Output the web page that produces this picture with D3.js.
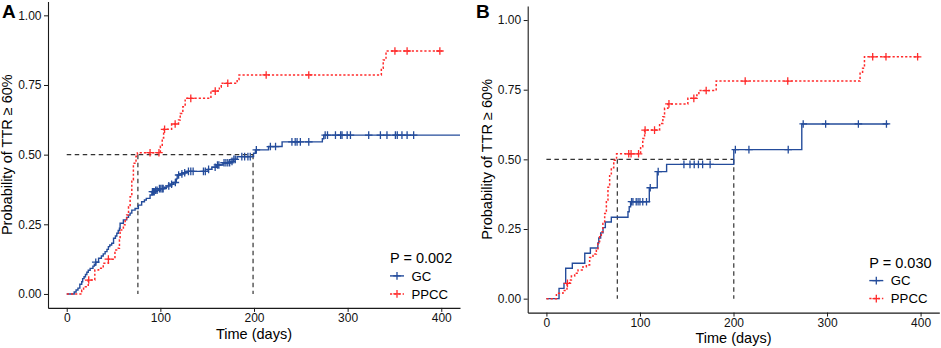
<!DOCTYPE html>
<html><head><meta charset="utf-8">
<script src="https://cdn.jsdelivr.net/npm/d3@7"></script>
<style>
body{margin:0;background:#fff}
svg{display:block}
text{font-family:"Liberation Sans",Arial,Helvetica,sans-serif}
</style>
</head><body>
<svg id="c" width="941" height="348"></svg>
<script>
// ---------- data ----------
const xTicks = [0, 100, 200, 300, 400];
const yTicks = [0, 0.25, 0.5, 0.75, 1];
const yTickLabels = ["0.00", "0.25", "0.50", "0.75", "1.00"];
const groups = ["GC", "PPCC"];
const pValues = ["P = 0.002", "P = 0.030"];
const panelLabels = ["A", "B"];
const xTitle = "Time (days)";
const yTitle = "Probability of TTR \u2265 60%";

// Panel A
const gcA_time = [0, 8, 10, 12, 14, 16, 17, 18.5, 20, 21.5, 23, 25, 28, 29.5, 31, 34, 37, 39, 41, 43, 44.5, 46, 48, 50, 52, 53.5, 55, 56.3, 57, 60.5, 64, 66, 67.7, 69.5, 73, 76.5, 80, 83, 85, 89, 91, 94, 98, 104, 107, 110.5, 114, 117, 118, 121, 124.5, 128, 151, 155, 160, 167, 175, 178, 182, 199.5, 201.5, 215.5, 230, 273, 274.5, 430];
const gcA_prob = [0, 0.007, 0.014, 0.021, 0.035, 0.044, 0.055, 0.062, 0.07, 0.078, 0.085, 0.092, 0.1, 0.107, 0.114, 0.128, 0.136, 0.144, 0.152, 0.16, 0.17, 0.176, 0.182, 0.2, 0.208, 0.218, 0.228, 0.236, 0.254, 0.266, 0.275, 0.283, 0.29, 0.301, 0.307, 0.319, 0.331, 0.337, 0.343, 0.355, 0.367, 0.372, 0.378, 0.383, 0.388, 0.394, 0.4, 0.413, 0.427, 0.431, 0.435, 0.44, 0.447, 0.455, 0.463, 0.471, 0.476, 0.483, 0.493, 0.505, 0.517, 0.529, 0.546, 0.557, 0.57, 0.57];
const gcA_censor = [31, 91.5, 92.5, 93.5, 95, 96.5, 99, 100.5, 102, 103, 109, 112, 116, 119.5, 123, 126, 130, 132.5, 135, 146, 148, 151.5, 158.5, 161, 162.5, 168, 170, 172, 174, 176.5, 178.5, 180, 187, 190, 193.5, 196, 202.5, 217.5, 223, 240.5, 244, 246, 249.5, 258.5, 276, 278.5, 287, 292.5, 294, 299.5, 303, 322.5, 335, 342, 351, 353, 358, 363.5, 370.5];
const ppccA_time = [0, 16, 18, 23, 30, 34, 39, 44.5, 51.5, 55, 56.3, 57, 60.5, 62.4, 64, 66, 67.7, 69.5, 71.2, 74, 75.5, 100, 102, 103.5, 112, 119.4, 121.2, 124, 126.5, 154, 163, 165, 182, 184, 336, 338, 341, 401];
const ppccA_prob = [0, 0.013, 0.026, 0.05, 0.086, 0.092, 0.11, 0.125, 0.158, 0.164, 0.194, 0.23, 0.248, 0.266, 0.283, 0.313, 0.349, 0.409, 0.469, 0.494, 0.507, 0.53, 0.56, 0.591, 0.61, 0.624, 0.648, 0.672, 0.702, 0.728, 0.742, 0.756, 0.77, 0.786, 0.81, 0.84, 0.872, 0.872];
const ppccA_censor = [23.5, 44.5, 89, 98.5, 104.5, 115.8, 132.5, 158.6, 172, 213, 258.5, 350.5, 363.5, 398.5];
const medianA = [76, 199];

// Panel B
const gcB_time = [0, 13.5, 18.8, 20.6, 27.7, 41, 47, 55, 56, 58, 60.5, 63, 69.4, 87.2, 88.5, 90, 110, 118.5, 128.5, 200.3, 273, 365.6];
const gcB_prob = [0, 0.037, 0.055, 0.109, 0.127, 0.163, 0.182, 0.2, 0.218, 0.236, 0.255, 0.275, 0.292, 0.312, 0.33, 0.348, 0.398, 0.456, 0.482, 0.535, 0.627, 0.627];
const gcB_censor = [91, 92.5, 96, 98, 100, 103, 107, 111, 119.5, 147, 153.5, 158, 162.5, 167, 175, 202, 216.5, 258.5, 274.5, 298.5, 333.5, 363.5];
const ppccB_time = [0, 10.7, 17.7, 22, 24.9, 26.7, 30.2, 33.8, 39.1, 42.7, 46.2, 49.8, 53.4, 55.1, 56.9, 58.7, 60.4, 62.3, 64.1, 65.8, 67.6, 69.4, 72, 75, 100.7, 103, 105, 121, 124.5, 126.3, 129.9, 151.2, 160.8, 163, 181.5, 335.3, 338, 340, 398];
const ppccB_prob = [0, 0.019, 0.029, 0.055, 0.067, 0.081, 0.091, 0.103, 0.115, 0.121, 0.148, 0.16, 0.175, 0.205, 0.222, 0.24, 0.27, 0.306, 0.354, 0.40, 0.445, 0.47, 0.497, 0.52, 0.545, 0.575, 0.605, 0.629, 0.653, 0.683, 0.699, 0.719, 0.731, 0.747, 0.781, 0.809, 0.827, 0.868, 0.868];
const ppccB_censor = [22.5, 88, 90.5, 98.5, 105.5, 115.6, 131, 157.6, 170.8, 212.5, 258, 348.8, 363, 396.8];
const medianB = [75.8, 200.3];

// ---------- styling / layout ----------
const GC_COLOR = "#244C9B";
const PP_COLOR = "#FF2B2B";
const FONT_TICK = 12, FONT_TITLE = 14.5, FONT_LEG = 13.2;

const panels = [
  {label: panelLabels[0], pval: pValues[0], left: 48, right: 460, top: 1.4, bottom: 307.9, labelX: 2,
   series: [{t: gcA_time, p: gcA_prob, c: gcA_censor}, {t: ppccA_time, p: ppccA_prob, c: ppccA_censor}], med: medianA},
  {label: panelLabels[1], pval: pValues[1], left: 527.7, right: 939.3, top: 6.1, bottom: 312.6, labelX: 476,
   series: [{t: gcB_time, p: gcB_prob, c: gcB_censor}, {t: ppccB_time, p: ppccB_prob, c: ppccB_censor}], med: medianB}
];
const styles = [
  {color: GC_COLOR, dash: null, width: 1.4, arm: 3.8},
  {color: PP_COLOR, dash: "2.2,2", width: 1.5, arm: 3.8}
];

const svg = d3.select("#c");

function stepValue(times, probs, t) {
  let v = probs[0];
  for (let i = 0; i < times.length; i++) { if (times[i] <= t) v = probs[i]; else break; }
  return v;
}
const crossPath = a => `M${-a},0H${a}M0,${-a}V${a}`;

panels.forEach((pn, pi) => {
  const x = d3.scaleLinear().domain([-20, 420]).range([pn.left, pn.right]);
  const y = d3.scaleLinear().domain([-0.05, 1.05]).range([pn.bottom, pn.top]);
  const g = svg.append("g");

  const clipId = "clip" + pi;
  svg.append("clipPath").attr("id", clipId).append("rect")
    .attr("x", pn.left).attr("y", pn.top).attr("width", pn.right - pn.left).attr("height", pn.bottom - pn.top);

  // axes
  const xa = g.append("g").attr("transform", `translate(0,${pn.bottom})`)
    .call(d3.axisBottom(x).tickValues(xTicks).tickSize(4).tickPadding(2).tickSizeOuter(0));
  const ya = g.append("g").attr("transform", `translate(${pn.left},0)`)
    .call(d3.axisLeft(y).tickValues(yTicks).tickFormat((d, i) => yTickLabels[i]).tickSize(4).tickPadding(2.5).tickSizeOuter(0));
  [xa, ya].forEach(a => {
    a.select(".domain").attr("stroke", "#1a1a1a").attr("stroke-width", 1.1);
    a.selectAll(".tick line").attr("stroke", "#1a1a1a").attr("stroke-width", 1);
    a.selectAll(".tick text").attr("fill", "#111").style("font-size", FONT_TICK + "px")
      .style("font-family", '"Liberation Sans",Arial,sans-serif');
  });

  // axis titles
  g.append("text").attr("x", (pn.left + pn.right) / 2).attr("y", pn.bottom + 30.8)
    .attr("text-anchor", "middle").style("font-size", FONT_TITLE + "px").attr("fill", "#000").text(xTitle);
  g.append("text").attr("transform", `translate(${pn.left - 36},${(pn.top + pn.bottom) / 2}) rotate(-90)`)
    .attr("text-anchor", "middle").style("font-size", FONT_TITLE + "px").attr("fill", "#000").text(yTitle);

  // panel label
  g.append("text").attr("x", pn.labelX).attr("y", 18).style("font-size", "19px").style("font-weight", "bold")
    .attr("fill", "#000").text(pn.label);

  // median dashed lines
  const dg = g.append("g").attr("stroke", "#333").attr("stroke-width", 1.2).attr("stroke-dasharray", "4.5,3.5").attr("fill", "none");
  dg.append("line").attr("x1", x(0)).attr("x2", x(d3.max(pn.med))).attr("y1", y(0.5)).attr("y2", y(0.5));
  pn.med.forEach(m => {
    dg.append("line").attr("x1", x(m)).attr("x2", x(m)).attr("y1", y(0.5)).attr("y2", y(0));
  });

  // curves
  const cg = g.append("g").attr("clip-path", `url(#${clipId})`);
  pn.series.forEach((s, si) => {
    const st = styles[si];
    const pts = s.t.map((t, i) => [t, s.p[i]]);
    const line = d3.line().x(d => x(d[0])).y(d => y(d[1])).curve(d3.curveStepAfter);
    const path = cg.append("path").attr("d", line(pts)).attr("fill", "none")
      .attr("stroke", st.color).attr("stroke-width", st.width);
    if (st.dash) path.attr("stroke-dasharray", st.dash);
    cg.selectAll(null).data(s.c).enter().append("path")
      .attr("transform", d => `translate(${x(d)},${y(stepValue(s.t, s.p, d))})`)
      .attr("d", crossPath(st.arm)).attr("stroke", st.color).attr("stroke-width", 1.3).attr("fill", "none");
  });

  // legend
  const lx = pn.right - 70, lb = pn.bottom;
  g.append("text").attr("x", lx).attr("y", lb - 45).style("font-size", FONT_TITLE + "px").attr("fill", "#000").text(pn.pval);
  groups.forEach((name, gi) => {
    const st = styles[gi];
    const cy = lb - 32 + gi * 18;
    const l = g.append("line").attr("x1", lx).attr("x2", lx + 14).attr("y1", cy).attr("y2", cy)
      .attr("stroke", st.color).attr("stroke-width", st.width);
    if (st.dash) l.attr("stroke-dasharray", st.dash);
    g.append("path").attr("transform", `translate(${lx + 7},${cy})`).attr("d", crossPath(st.arm))
      .attr("stroke", st.color).attr("stroke-width", 1.3);
    g.append("text").attr("x", lx + 21.5).attr("y", cy).attr("dy", "0.36em")
      .style("font-size", FONT_LEG + "px").attr("fill", "#000").text(name);
  });
});
</script>
</body></html>
